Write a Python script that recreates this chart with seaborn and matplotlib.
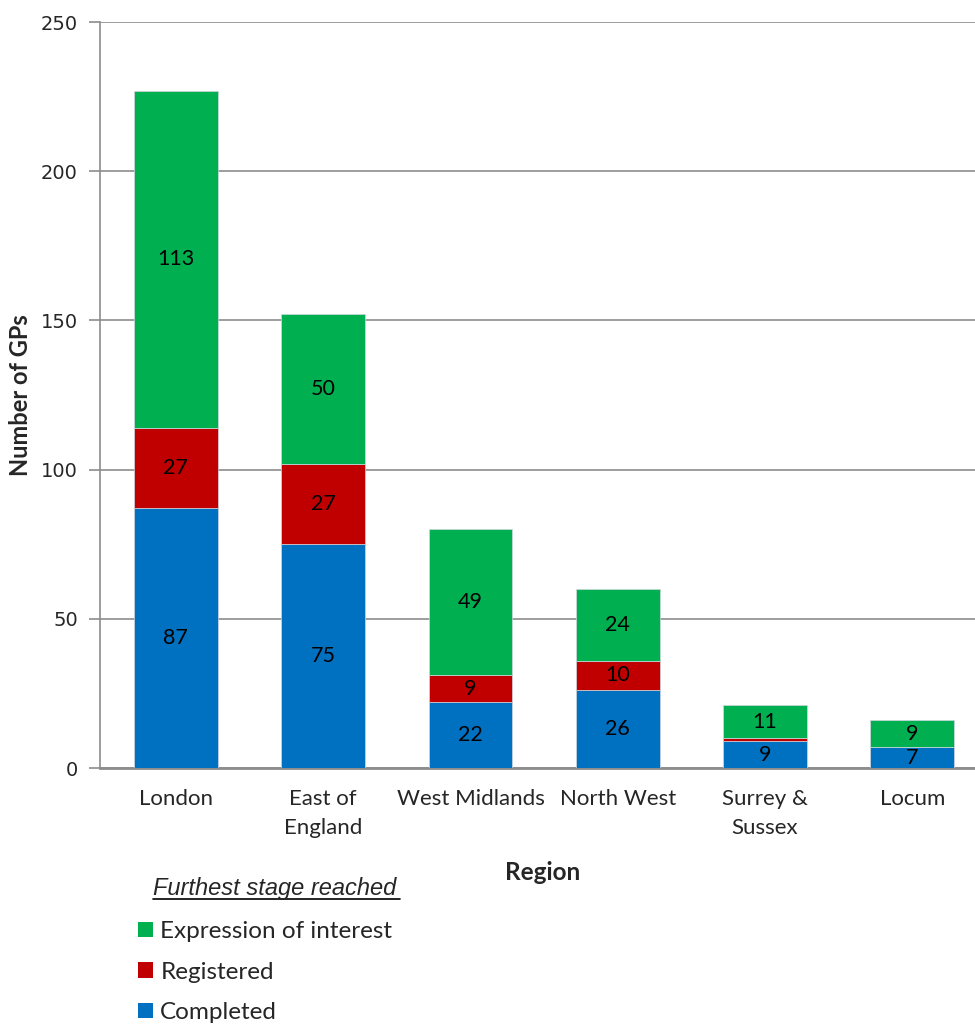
import matplotlib
matplotlib.use("Agg")
import matplotlib.pyplot as plt
import seaborn as sns
import pandas as pd
import numpy as np
from matplotlib.patches import Patch

regions = ["London", "East of\nEngland", "West Midlands", "North West", "Surrey &\nSussex", "Locum"]
completed = [87, 75, 22, 26, 9, 7]
registered = [27, 27, 9, 10, 1, 0]
expression = [113, 50, 49, 24, 11, 9]

stage_names = ["Completed", "Registered", "Expression of interest"]
stage_colors = ["#0070C0", "#C00000", "#00B050"]

sns.set_theme(style="white")
plt.rcParams["font.family"] = ["Lato", "DejaVu Sans"]

fig = plt.figure(figsize=(9.75, 10.24), dpi=100)
ax = fig.add_axes([0.1026, 0.25, 0.9087, 0.7285])

df = pd.DataFrame({"Region": regions, "Completed": completed,
                   "Registered": registered, "Expression of interest": expression})

bottom = np.zeros(len(regions))
for name, color in zip(stage_names, stage_colors):
    vals = df[name].to_numpy(dtype=float)
    sns.barplot(data=df, x="Region", y=name, color=color, width=0.57,
                bottom=bottom, ax=ax, saturation=1, edgecolor="#d0d8e0", linewidth=0.5,
                zorder=3)
    for i, v in enumerate(vals):
        if v >= 5:
            ax.text(i, bottom[i] + v / 2, f"{int(v)}", ha="center", va="center",
                    fontsize=15.5, color="black", zorder=4)
    bottom = bottom + vals

ax.set_xlim(-0.515, 5.5)
ax.set_ylim(0, 250)
ax.set_yticks(range(0, 251, 50))
ax.yaxis.grid(True, color="#8c8c8c", linewidth=1.2, zorder=0)
ax.set_axisbelow(True)
for s in ["top", "right"]:
    ax.spines[s].set_visible(False)
ax.spines["left"].set_color("#8c8c8c")
ax.spines["left"].set_linewidth(1.2)
ax.spines["bottom"].set_color("#8c8c8c")
ax.spines["bottom"].set_linewidth(2)
ax.tick_params(axis="y", which="major", direction="out", length=8, width=1.2,
               color="#8c8c8c", pad=8, left=True)
ax.tick_params(axis="x", length=0, pad=15)
for lbl in ax.get_yticklabels():
    lbl.set_fontfamily(["DejaVu Sans"])
    lbl.set_fontsize(14)
for lbl in ax.get_xticklabels():
    lbl.set_fontsize(16)
    lbl.set_linespacing(1.6)

ax.set_ylabel("Number of GPs", fontsize=17, fontweight="bold", labelpad=6)
ax.set_xlabel("Region", fontsize=17.5, fontweight="bold", labelpad=16)

handles = [Patch(facecolor=c, edgecolor="none") for c in stage_colors[::-1]]
leg = fig.legend(handles, stage_names[::-1], loc="upper left",
                 bbox_to_anchor=(0.1415, 0.1005), frameon=False, fontsize=17.5,
                 handlelength=0.62, handleheight=0.62, handletextpad=0.3,
                 labelspacing=0.8, borderaxespad=0, borderpad=0)
fig.text(0.157, 0.1328, "Furthest stage reached", fontsize=17, style="italic",
         family=["Liberation Sans"], va="center")
fig.add_artist(plt.Line2D([0.157, 0.410], [0.1225, 0.1225], color="black", linewidth=1.2,
                          transform=fig.transFigure))

fig.savefig("out.png", dpi=100)
